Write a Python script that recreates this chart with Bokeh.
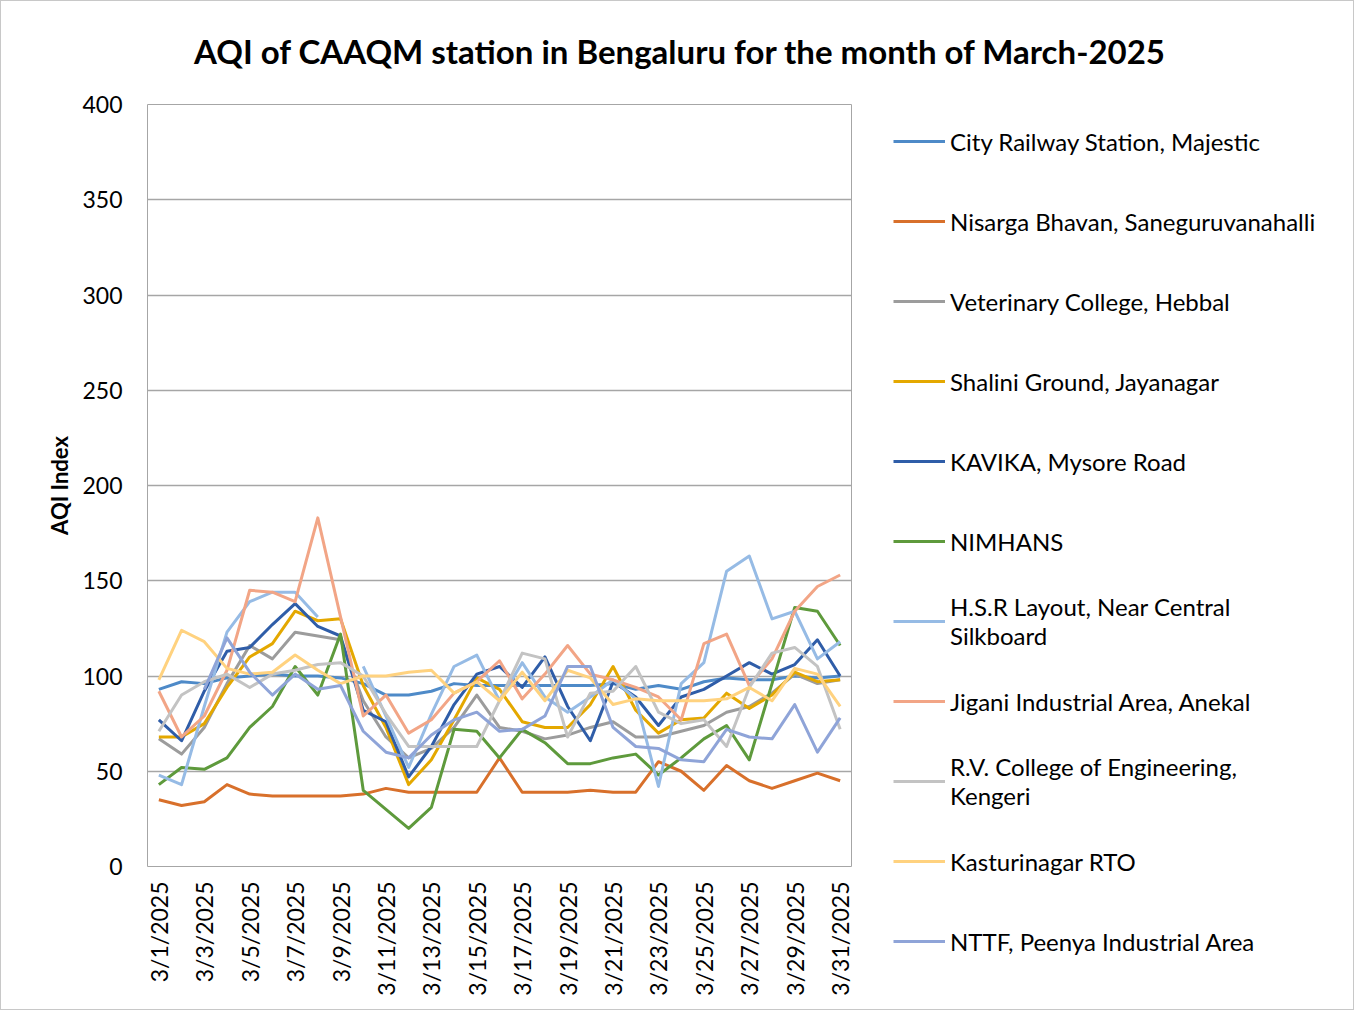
import math
from bokeh.plotting import figure
from bokeh.layouts import row, column
from bokeh.models import Legend, LegendItem, FixedTicker, Range1d, Label
from bokeh.embed import file_html
from bokeh.resources import INLINE

nan = float("nan")

days = list(range(1, 32))
tick_days = list(range(1, 32, 2))
tick_labels = [f"3/{d}/2025" for d in tick_days]
y_ticks = [0, 50, 100, 150, 200, 250, 300, 350, 400]

station_names = [
    "City Railway Station, Majestic",
    "Nisarga Bhavan, Saneguruvanahalli",
    "Veterinary College, Hebbal",
    "Shalini Ground, Jayanagar",
    "KAVIKA, Mysore Road",
    "NIMHANS",
    "H.S.R Layout, Near Central\nSilkboard",
    "Jigani Industrial Area, Anekal",
    "R.V. College of Engineering,\nKengeri",
    "Kasturinagar RTO",
    "NTTF, Peenya Industrial Area",
]

city_railway = [93, 97, 96, 99, 100, 101, 100, 100, 99, 96, 90, 90, 92, 96, 95, 95,
                95, 95, 95, 95, 96, 93, 95, 93, 97, 99, 98, 98, 100, 99, 100]
nisarga_bhavan = [35, 32, 34, 43, 38, 37, 37, 37, 37, 38, 41, 39, 39, 39, 39, 57,
                  39, 39, 39, 40, 39, 39, 55, 50, 40, 53, 45, 41, 45, 49, 45]
veterinary_college = [67, 59, 73, 96, 116, 109, 123, 121, 119, 87, 68, 57, 62, 73, 90, 73,
                      71, 67, 69, 73, 76, 68, 68, 71, 74, 81, 84, 91, 101, 96, 98]
shalini_ground = [68, 68, 75, 94, 110, 117, 134, 129, 130, 95, 73, 43, 56, 77, 99, 93,
                  76, 73, 73, 85, 105, 82, 70, 77, 78, 91, 83, 90, 102, 97, 98]
kavika = [77, 66, 92, 113, 115, 127, 138, 126, 121, 82, 76, 47, 63, 85, 101, 105,
          94, 110, 84, 66, 97, 89, 74, 89, 93, 100, 107, 101, 106, 119, 100]
nimhans = [43, 52, 51, 57, 73, 84, 105, 90, 122, 40, 30, 20, 31, 72, 71, 57,
           72, 65, 54, 54, 57, 59, 48, 57, 67, 74, 56, 96, 136, 134, 116]
hsr_layout = [48, 43, 84, 123, 139, 144, 144, 131, nan, 105, 79, 52, 80, 105, 111, 87,
              107, 89, 81, 89, 98, 88, 42, 96, 107, 155, 163, 130, 134, 109, 118]
jigani = [92, 68, 79, 103, 145, 144, 139, 183, 131, 79, 90, 70, 77, 91, 97, 108,
          88, 101, 116, 101, 98, 94, 89, 77, 117, 122, 95, 109, 134, 147, 153]
rv_college = [71, 90, 97, 101, 94, 101, 103, 106, 107, 100, 80, 63, 63, 63, 63, 87,
              112, 109, 68, 91, 92, 105, 81, 75, 77, 63, 94, 112, 115, 105, 72]
kasturinagar = [98, 124, 118, 104, 101, 102, 111, 103, 96, 100, 100, 102, 103, 91, 97, 87,
                102, 87, 103, 99, 85, 88, 87, 87, 87, 88, 94, 87, 104, 101, 84]
nttf_peenya = [nan, nan, 93, 120, 102, 90, 101, 93, 95, 71, 60, 57, 69, 77, 81, 71,
               72, 79, 105, 105, 73, 63, 62, 56, 55, 72, 68, 67, 85, 60, 78]

series_values = [city_railway, nisarga_bhavan, veterinary_college, shalini_ground, kavika,
                 nimhans, hsr_layout, jigani, rv_college, kasturinagar, nttf_peenya]
colors = ["#4E8AC8", "#D8702B", "#9C9C9C", "#E4A800", "#2F5DA8", "#5E9A3C",
          "#96BBE5", "#F2A586", "#C3C3C3", "#FFD27F", "#8FA4D8"]

FONT = "Lato"
TOTAL_W = 1352
TITLE_H = 80
BODY_H = 1008 - TITLE_H
MAIN_W = 880


def no_align(fig):
    if "frame_align" in fig.properties():
        fig.frame_align = False


# ---- title strip -------------------------------------------------------
tf = figure(width=TOTAL_W, height=TITLE_H, output_backend="svg", toolbar_location=None,
            title_location=None, x_range=Range1d(0, 1), y_range=Range1d(0, 1),
            x_axis_type=None, y_axis_type=None,
            min_border_left=0, min_border_right=0, min_border_top=0, min_border_bottom=0)
tf.outline_line_color = None
tf.grid.visible = False
no_align(tf)
tf.add_layout(Label(x=679 / TOTAL_W, y=1 - 49 / TITLE_H,
                    text="AQI of CAAQM station in Bengaluru for the month of March-2025",
                    text_font=FONT, text_font_size="33px", text_font_style="bold",
                    text_align="center", text_baseline="middle", text_color="black"))

# ---- main chart --------------------------------------------------------
p = figure(width=MAIN_W, height=BODY_H, output_backend="svg", toolbar_location=None,
           title_location=None, x_range=Range1d(0.5, 31.5), y_range=Range1d(0, 400),
           min_border_left=146, min_border_right=30, min_border_top=103 - TITLE_H,
           min_border_bottom=143)
no_align(p)
p.background_fill_color = "white"
p.border_fill_color = "white"
p.outline_line_color = "#A6A6A6"
p.outline_line_width = 1

p.xaxis.ticker = FixedTicker(ticks=tick_days)
p.xaxis.major_label_overrides = {d: lab for d, lab in zip(tick_days, tick_labels)}
p.xaxis.major_label_orientation = math.pi / 2
p.xaxis.axis_line_color = None
p.xaxis.major_tick_line_color = None
p.xaxis.minor_tick_line_color = None
p.xaxis.major_label_standoff = 9
p.xaxis.major_label_text_font = FONT
p.xaxis.major_label_text_font_size = "23px"
p.xaxis.major_label_text_color = "black"

p.yaxis.ticker = FixedTicker(ticks=y_ticks)
p.yaxis.axis_line_color = None
p.yaxis.major_tick_line_color = None
p.yaxis.minor_tick_line_color = None
p.yaxis.major_label_standoff = 19
p.yaxis.major_label_text_font = FONT
p.yaxis.major_label_text_font_size = "23px"
p.yaxis.major_label_text_color = "black"
p.yaxis.axis_label = "AQI Index"
p.yaxis.axis_label_text_font = FONT
p.yaxis.axis_label_text_font_size = "22px"
p.yaxis.axis_label_text_font_style = "bold"
p.yaxis.axis_label_text_color = "black"
p.yaxis.axis_label_standoff = 6

p.xgrid.grid_line_color = None
p.ygrid.grid_line_color = "#A6A6A6"
p.ygrid.grid_line_width = 1.5

for vals, col in zip(series_values, colors):
    p.line(days, vals, line_color=col, line_width=3, line_join="round")

# ---- legend panel -------------------------------------------------------
lf = figure(width=TOTAL_W - MAIN_W, height=BODY_H, output_backend="svg",
            toolbar_location=None, title_location=None,
            x_range=Range1d(0, 1), y_range=Range1d(0, 1),
            x_axis_type=None, y_axis_type=None,
            min_border_left=0, min_border_right=0, min_border_top=0, min_border_bottom=0)
no_align(lf)
lf.outline_line_color = None
lf.grid.visible = False

items = []
for name, col in zip(station_names, colors):
    # proxy glyph for the legend key only (lies outside the visible range)
    proxy = lf.line(x=[-2, -1], y=[-2, -2], line_color=col, line_width=3)
    items.append(LegendItem(label=name, renderers=[proxy]))

legend = Legend(items=items, location=(12, 36), orientation="vertical",
                padding=0, margin=0, spacing=16,
                glyph_width=52, glyph_height=64, label_height=64, label_standoff=5,
                label_text_font=FONT, label_text_font_size="24px",
                label_text_line_height=1.33,
                label_text_color="black", border_line_color=None,
                background_fill_alpha=0)
lf.add_layout(legend)

layout = column(tf, row(p, lf), styles={"border": "1px solid #C8C8C8"})

open("out.html", "w").write(file_html(layout, INLINE))
